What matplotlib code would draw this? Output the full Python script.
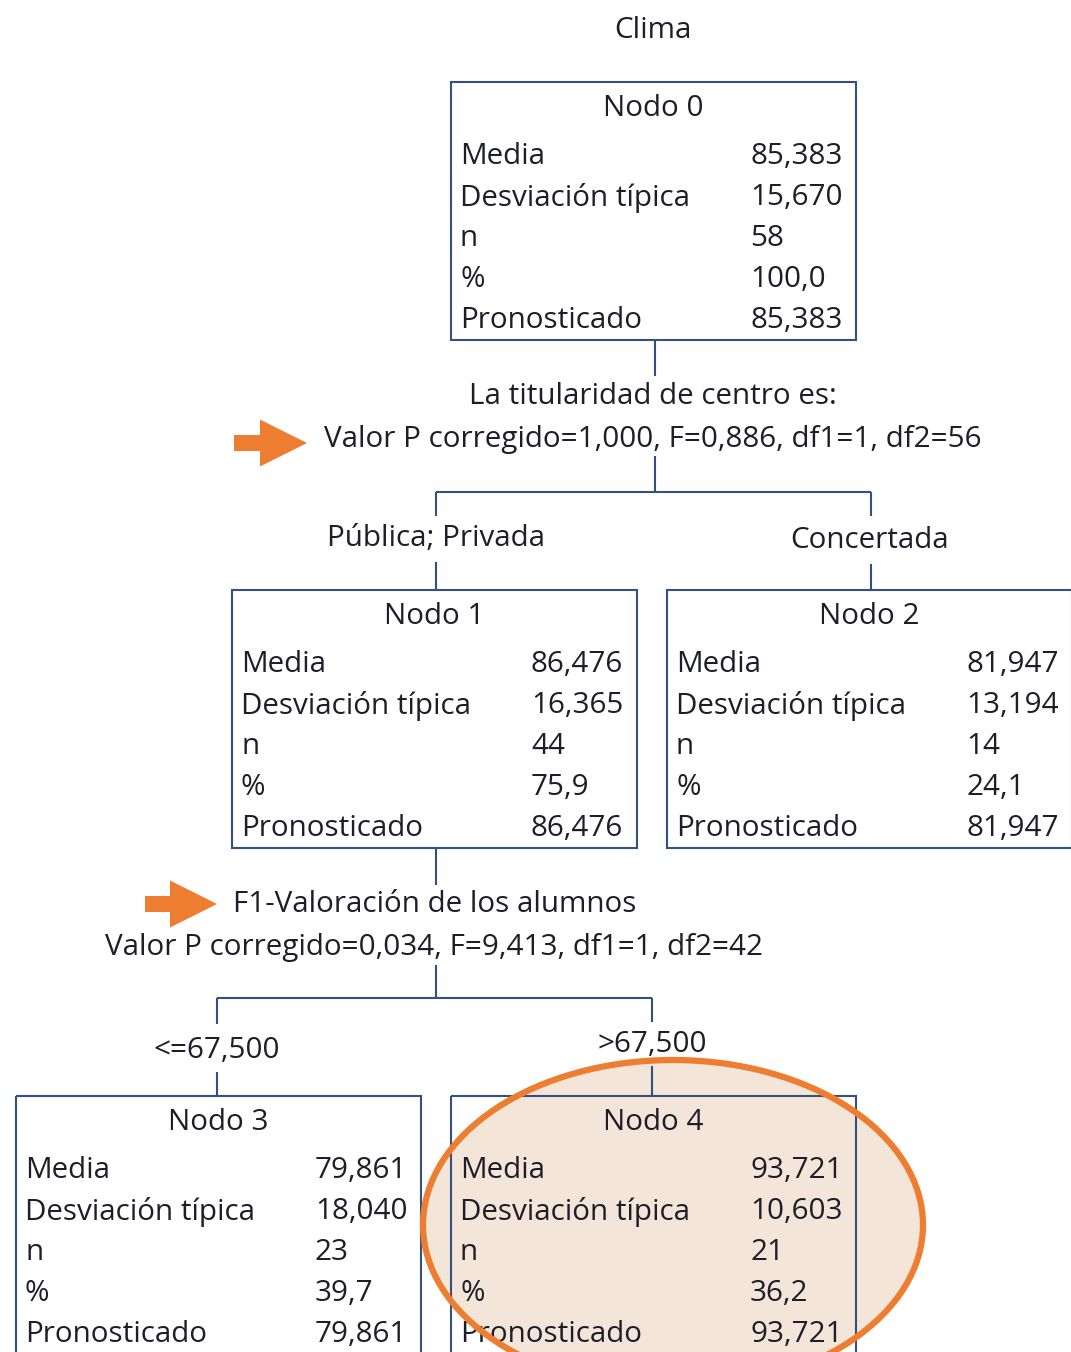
import matplotlib.pyplot as plt
from matplotlib.patches import Rectangle, Ellipse, Polygon

# Datos del árbol
titulo = "Clima"
etiquetas = ["Media", "Desviación típica", "n", "%", "Pronosticado"]
nodos = ["Nodo 0", "Nodo 1", "Nodo 2", "Nodo 3", "Nodo 4"]
medias = ["85,383", "86,476", "81,947", "79,861", "93,721"]
desviaciones = ["15,670", "16,365", "13,194", "18,040", "10,603"]
ns = ["58", "44", "14", "23", "21"]
porcentajes = ["100,0", "75,9", "24,1", "39,7", "36,2"]
pronosticados = ["85,383", "86,476", "81,947", "79,861", "93,721"]
division1 = ["La titularidad de centro es:", "Valor P corregido=1,000, F=0,886, df1=1, df2=56"]
ramas1 = ["Pública; Privada", "Concertada"]
division2 = ["F1-Valoración de los alumnos", "Valor P corregido=0,034, F=9,413, df1=1, df2=42"]
ramas2 = ["<=67,500", ">67,500"]

# Estilo
plt.rcParams['font.family'] = ['Open Sans', 'DejaVu Sans']
FS = 21.3
TXT = '#1e1e2a'
BORDE = '#34507f'
NARANJA = '#ED7D31'

fig = plt.figure(figsize=(10.71, 13.52), dpi=100)
ax = fig.add_axes([0, 0, 1, 1])
ax.set_xlim(0, 1071)
ax.set_ylim(1352, 0)
ax.axis('off')

W, H = 405, 258
# (x izquierda, y arriba) de cada caja
pos = [(451, 82), (232, 590), (667, 590), (16, 1096), (451, 1096)]


def linea(xs, ys):
    ax.plot(xs, ys, color=BORDE, lw=1.5, solid_capstyle='butt', zorder=2)


def texto(x, y, s, ha='center'):
    ax.text(x, y + 2, s, ha=ha, va='center', fontsize=FS, color=TXT, zorder=5)


def caja(i):
    x, y = pos[i]
    ax.add_patch(Rectangle((x, y), W, H, fill=False, ec=BORDE, lw=1.5, zorder=3))
    texto(x + W / 2, y + 25, nodos[i])
    valores = [medias[i], desviaciones[i], ns[i], porcentajes[i], pronosticados[i]]
    for k, (et, v) in enumerate(zip(etiquetas, valores)):
        yy = y + 73 + k * 40.8
        texto(x + 9, yy, et, ha='left')
        texto(x + 299, yy, v, ha='left')


def flecha(x0, xh, xt, yc, th, hh):
    pts = [(x0, yc - th / 2), (xh, yc - th / 2), (xh, yc - hh / 2), (xt, yc),
           (xh, yc + hh / 2), (xh, yc + th / 2), (x0, yc + th / 2)]
    ax.add_patch(Polygon(pts, closed=True, fc=NARANJA, ec='none', zorder=4))


texto(653, 28, titulo)

for i in range(5):
    caja(i)

# Primera división
linea([655, 655], [340, 376])
texto(653, 395, division1[0])
texto(653, 437, division1[1])
linea([655, 655], [456, 492])
linea([436, 871], [492, 492])
linea([436, 436], [492, 516])
linea([871, 871], [492, 516])
texto(436, 537, ramas1[0])
texto(870, 539, ramas1[1])
linea([436, 436], [562, 590])
linea([871, 871], [564, 590])

# Segunda división
linea([436, 436], [848, 885])
texto(435, 903, division2[0])
texto(434, 945, division2[1])
linea([436, 436], [965, 998])
linea([217, 652], [998, 998])
linea([217, 217], [998, 1024])
linea([652, 652], [998, 1022])
texto(217, 1049, ramas2[0])
texto(652, 1043, ramas2[1])
linea([217, 217], [1072, 1096])
linea([652, 652], [1066, 1096])

# Resaltados
flecha(234, 260, 307, 443, 16, 47)
flecha(145, 170, 217, 904, 16, 47)
ax.add_patch(Ellipse((673, 1225), 500, 330, fc='#F3E5D8', ec='none', zorder=1))
ax.add_patch(Ellipse((673, 1225), 500, 330, fill=False, ec=NARANJA, lw=4.5, zorder=6))

fig.savefig("out.png", dpi=100)
